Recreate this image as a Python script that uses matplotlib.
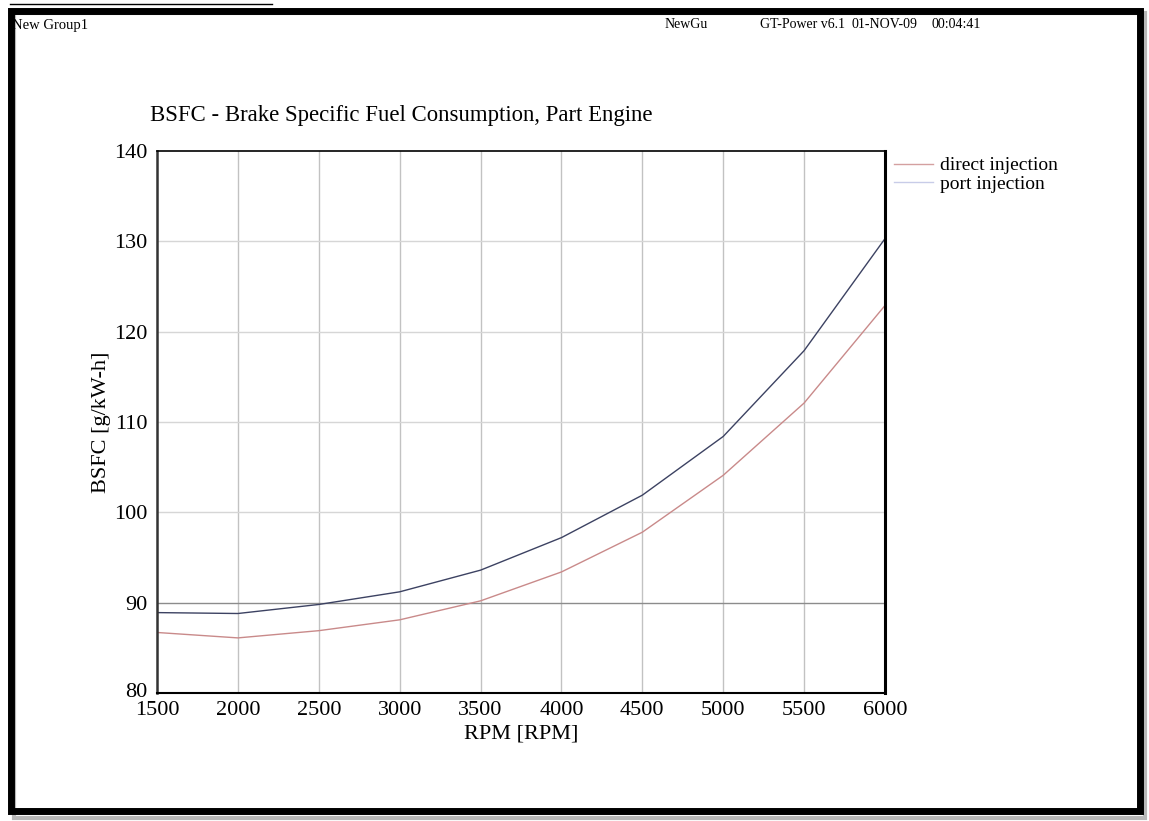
import matplotlib.pyplot as plt
import matplotlib.transforms as mtransforms
from matplotlib.patches import Rectangle
from matplotlib.lines import Line2D

# engine speed sweep and BSFC results
rpm = [1500, 2000, 2500, 3000, 3500, 4000, 4500, 5000, 5500, 6000]
bsfc_direct = [86.7, 86.1, 86.9, 88.1, 90.2, 93.4, 97.8, 104.1, 112.1, 122.9]
bsfc_port = [88.9, 88.8, 89.8, 91.2, 93.6, 97.2, 101.9, 108.4, 117.9, 130.3]

series_names = ['direct injection', 'port injection']
header_left = 'New Group1'
header_right = ['NewGu', 'GT-Power v6.1', '01-NOV-09', '00:04:41']
header_x = [665, 760, 852, 932]

W, H = 1149, 821
plt.rcParams['font.family'] = ['Liberation Serif', 'DejaVu Serif']

fig = plt.figure(figsize=(W / 100, H / 100), dpi=100)
fig.patch.set_facecolor('white')

# outer window frame
fig.patches.append(Rectangle((14 / W, 1 - 818 / H), 1131 / W, 805 / H,
                             transform=fig.transFigure, facecolor='none',
                             edgecolor='#b8b8b8', lw=3, zorder=0))
fig.patches.append(Rectangle((11 / W, 1 - 811 / H), 1129 / W, 800 / H,
                             transform=fig.transFigure, facecolor='none',
                             edgecolor='black', lw=5, zorder=1))
fig.add_artist(Line2D([10 / W, 272 / W], [1 - 4 / H, 1 - 4 / H],
                      transform=fig.transFigure, color='black', lw=1))

fig.text(12 / W, 1 - 25 / H, header_left, fontsize=10.5, va='center', ha='left')
for x, s in zip(header_x, header_right):
    fig.text(x / W, 1 - 25 / H, s, fontsize=10, va='center', ha='left')

ax = fig.add_axes([157 / W, 1 - 693 / H, (885 - 157) / W, (693 - 151) / H])

ax.plot(rpm, bsfc_direct, color='#c98a8a', lw=1.0, label=series_names[0])
ax.plot(rpm, bsfc_port, color='#3c4262', lw=1.0, label=series_names[1])

ax.set_xlim(1500, 6000)
ax.set_ylim(80, 140)
ax.set_xticks(range(1500, 6001, 500))
ax.set_yticks(range(80, 141, 10))
ax.tick_params(length=0, labelsize=16)
ax.tick_params(axis='y', pad=7)
ax.tick_params(axis='x', pad=6)

# lift the bottom y label so it sits above the first rpm label
ylabels = ax.get_yticklabels()
ylabels[0].set_transform(ylabels[0].get_transform() +
                         mtransforms.ScaledTranslation(0, 3 / 100, fig.dpi_scale_trans))

for x in range(2000, 6000, 500):
    ax.axvline(x, color='#c2c2c2', lw=1.0, zorder=0)
for y in range(100, 140, 10):
    ax.axhline(y, color='#d6d6d6', lw=1.0, zorder=0)
ax.axhline(90, color='#8c8c8c', lw=1.0, zorder=0)

ax.spines['left'].set_linewidth(1.8)
ax.spines['left'].set_color('#333333')
ax.spines['bottom'].set_linewidth(1.5)
ax.spines['top'].set_linewidth(1.2)
ax.spines['right'].set_linewidth(2.2)

ax.set_xlabel('RPM [RPM]', fontsize=16, labelpad=3)
ax.set_ylabel('BSFC [g/kW-h]', fontsize=16, labelpad=2)
fig.text(150 / W, 1 - 115 / H, 'BSFC - Brake Specific Fuel Consumption, Part Engine',
         fontsize=16.4, ha='left', va='center')

# legend outside the plot, to the right
leg_handles = [Line2D([0], [0], color='#d4a0a0', lw=1.0),
               Line2D([0], [0], color='#c8cce8', lw=1.0)]
fig.legend(leg_handles, series_names, loc='upper left',
           bbox_to_anchor=(886 / W, 1 - 149 / H), frameon=False,
           fontsize=14, handlelength=2.0, handletextpad=0.4,
           labelspacing=0.05, borderaxespad=0)

fig.savefig('out.png', dpi=100)
